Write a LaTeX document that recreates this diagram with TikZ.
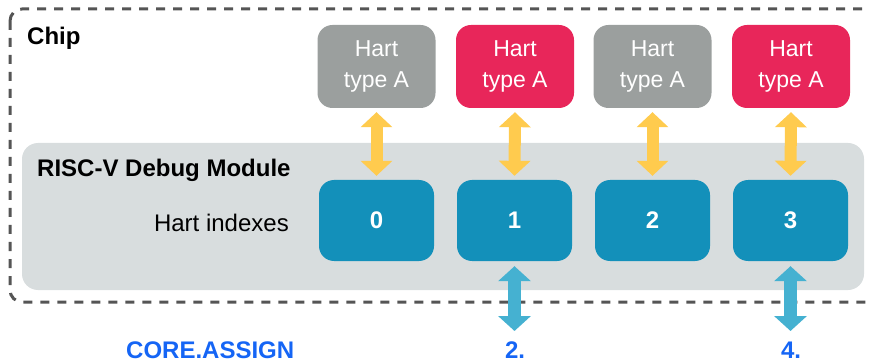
\documentclass[tikz,border=0pt]{standalone}
\usepackage{fontspec}
\setmainfont{Liberation Sans}
\usetikzlibrary{arrows.meta}

\definecolor{chipdash}{HTML}{555555}
\definecolor{modbg}{HTML}{D8DDDE}
\definecolor{hartgray}{HTML}{9B9F9E}
\definecolor{hartred}{HTML}{E8265A}
\definecolor{idxblue}{HTML}{1390BA}
\definecolor{linkyellow}{HTML}{FFCB4E}
\definecolor{linkblue}{HTML}{45B1D1}
\definecolor{labelblue}{HTML}{1565F5}

\tikzset{
  hart/.style={rounded corners=15pt, minimum width=118pt, minimum height=83pt,
    inner sep=0pt, text=white, align=center,
    font=\fontsize{23}{31}\selectfont},
  idx/.style={rounded corners=15pt, fill=idxblue, minimum width=115pt,
    minimum height=81pt, inner sep=0pt, text=white,
    font=\fontsize{24}{28}\selectfont\bfseries},
  yellowlink/.style={draw=linkyellow, line width=12pt,
    {Triangle[width=31pt,length=15pt]}-{Triangle[width=31pt,length=15pt]},
    shorten <=4pt, shorten >=4pt},
  bluelink/.style={draw=linkblue, line width=13pt,
    {Triangle[width=32pt,length=15pt]}-{Triangle[width=32pt,length=15pt]},
    shorten <=5pt},
  bigbold/.style={font=\fontsize{24}{28}\selectfont\bfseries, inner sep=0pt},
  bigplain/.style={font=\fontsize{24}{28}\selectfont, inner sep=0pt},
}

\begin{document}
\begin{tikzpicture}[x=1pt,y=-1pt]
\useasboundingbox (0,0) rectangle (869,363);
\clip (0,0) rectangle (869,363);

% chip outline (open to the right)
\draw[chipdash, line width=3pt, dash pattern=on 9pt off 8pt, rounded corners=12pt]
  (10,9) rectangle (905,302);

% debug module background
\fill[modbg, rounded corners=16pt] (22,143) rectangle (864,290);

\node[bigbold, anchor=base west] (chip) at (27,45) {Chip};
\node[bigbold, anchor=base west] (dm) at (37,177) {RISC-V Debug Module};
\node[bigplain, anchor=base east] (hi) at (289,232) {Hart indexes};

% harts
\node[hart, fill=hartgray] (h0) at (376.5,66.5) {Hart\\type A};
\node[hart, fill=hartred]  (h1) at (515,66.5)   {Hart\\type A};
\node[hart, fill=hartgray] (h2) at (652.5,66.5) {Hart\\type A};
\node[hart, fill=hartred]  (h3) at (791,66.5)   {Hart\\type A};

% hart indexes
\node[idx] (i0) at (376.5,220.5) {0};
\node[idx] (i1) at (514.5,220.5) {1};
\node[idx] (i2) at (652.5,220.5) {2};
\node[idx] (i3) at (790.5,220.5) {3};

% hart <-> index links
\foreach \k in {0,1,2,3} {
  \draw[yellowlink] (h\k.south) -- (i\k.north);
}

% external links
\coordinate (o1) at (514.5,331);
\coordinate (o3) at (790.5,331);
\draw[bluelink] (i1.south) -- (o1);
\draw[bluelink] (i3.south) -- (o3);

\node[bigbold, text=labelblue, anchor=base west] (ca) at (126,358) {CORE.ASSIGN};
\node[bigbold, text=labelblue, anchor=base] (l2) at (515,358) {2.};
\node[bigbold, text=labelblue, anchor=base] (l4) at (791,358) {4.};
\end{tikzpicture}
\end{document}
